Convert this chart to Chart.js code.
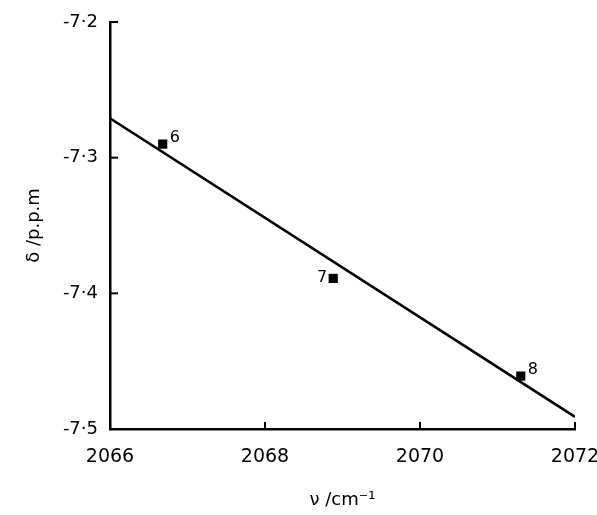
<!DOCTYPE html>
<html>
<head>
<meta charset="utf-8">
<script src="https://cdn.jsdelivr.net/npm/chart.js@4.4.1/dist/chart.umd.min.js"></script>
<style>
html,body{margin:0;padding:0;background:#fff}
#wrap{width:597px;height:515px}
</style>
</head>
<body>
<div id="wrap"><canvas id="c"></canvas></div>
<script>
// measured points (compound number, wavenumber, shift)
const labels = ["6","7","8"]
const nu = [2066.68,2068.88,2071.30]
const delta = [-7.290,-7.389,-7.461]

// fitted straight line ends
const fitX = [2066,2072]
const fitY = [-7.271,-7.491]

const xTicks = [2066,2068,2070,2072]
const yTicks = [-7.2,-7.3,-7.4,-7.5]

const font = "'DejaVu Sans', sans-serif"

const pts = nu.map((x,i)=>({x:x,y:delta[i]}))
const line = fitX.map((x,i)=>({x:x,y:fitY[i]}))

/* inward ticks + point numbers */
const extras = {
id:"extras",
afterDatasetsDraw(chart){
const c = chart.ctx
const xs = chart.scales.x
const ys = chart.scales.y
c.save()
c.strokeStyle="#000"
c.lineWidth=2
xTicks.forEach(v=>{
if(v===xTicks[0]) return
const px = xs.getPixelForValue(v)
c.beginPath()
c.moveTo(px,ys.bottom)
c.lineTo(px,ys.bottom-7)
c.stroke()
})
yTicks.forEach(v=>{
if(v===yTicks[yTicks.length-1]) return
const py = ys.getPixelForValue(v)
c.beginPath()
c.moveTo(xs.left,py)
c.lineTo(xs.left+8,py)
c.stroke()
})
c.fillStyle="#000"
c.font="16px "+font
c.textBaseline="middle"
const meta = chart.getDatasetMeta(1)
meta.data.forEach((p,i)=>{
if(labels[i]==="7"){
c.textAlign="right"
c.fillText(labels[i],p.x-6,p.y-1)
}else{
c.textAlign="left"
c.fillText(labels[i],p.x+7,p.y-6)
}
})
c.restore()
}
}

new Chart(document.getElementById("c"),{
type:"scatter",
data:{
datasets:[{
data:line,
showLine:true,
borderColor:"#000",
borderWidth:2.6,
pointRadius:0,
fill:false
},{
data:pts,
pointStyle:"rect",
pointRadius:6.5,
pointHoverRadius:6.5,
backgroundColor:"#000",
borderColor:"#000",
borderWidth:0
}]
},
options:{
responsive:true,
maintainAspectRatio:false,
animation:false,
events:[],
layout:{padding:{top:22,right:0,left:0,bottom:0}},
plugins:{legend:{display:false},tooltip:{enabled:false}},
scales:{
x:{
type:"linear",
min:2066,max:2072,
afterFit(s){s.height=86;s.paddingRight=22;s.paddingLeft=0},
afterBuildTicks(s){s.ticks=xTicks.map(v=>({value:v}))},
border:{display:true,color:"#000",width:2.5},
grid:{display:false,drawTicks:false},
ticks:{color:"#000",padding:17,maxRotation:0,font:{family:font,size:19},callback:v=>String(v)},
title:{display:true,text:"ν /cm⁻¹",color:"#000",font:{family:font,size:18},padding:{top:0,bottom:4}}
},
y:{
type:"linear",
min:-7.5,max:-7.2,
afterFit(s){s.width=110;s.paddingTop=0;s.paddingBottom=0},
afterBuildTicks(s){s.ticks=yTicks.map(v=>({value:v}))},
border:{display:true,color:"#000",width:2.5},
grid:{display:false,drawTicks:false},
ticks:{color:"#000",padding:12,font:{family:font,size:18},callback:v=>v.toFixed(1).replace(".","·")},
title:{display:true,text:"δ /p.p.m",color:"#000",font:{family:font,size:18},padding:{top:24,bottom:0}}
}
}
},
plugins:[extras]
})
</script>
</body>
</html>
